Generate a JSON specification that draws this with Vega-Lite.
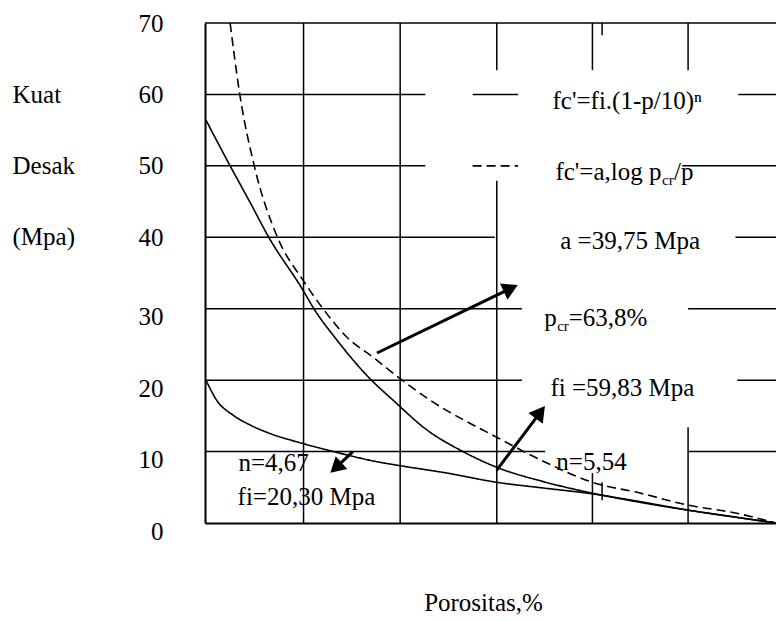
{
  "$schema": "https://vega.github.io/schema/vega-lite/v6.json",
  "width": 571,
  "height": 500,
  "autosize": {"type": "none"},
  "padding": {"left": 205, "top": 23, "right": 0, "bottom": 98},
  "background": "white",
  "config": {
    "view": {"stroke": null},
    "font": "Liberation Serif",
    "axis": {
      "grid": false,
      "ticks": false,
      "tickSize": 0,
      "domainColor": "black",
      "domainWidth": 2,
      "labelFont": "Liberation Serif",
      "labelFontSize": 25,
      "labelColor": "black",
      "titleFont": "Liberation Serif",
      "titleFontSize": 25,
      "titleFontWeight": "normal",
      "titleColor": "black"
    },
    "axisX": {"labels": false},
    "axisY": {"labelPadding": 42}
  },
  "datasets": {
    "curves": [
      {"series": "A", "p": 0.1, "v": 56.4},
      {"series": "A", "p": 2.6, "v": 50},
      {"series": "A", "p": 4.66, "v": 44.9},
      {"series": "A", "p": 6.6, "v": 40},
      {"series": "A", "p": 10.14, "v": 32.6},
      {"series": "A", "p": 11.18, "v": 30.2},
      {"series": "A", "p": 13.66, "v": 25.6},
      {"series": "A", "p": 17.08, "v": 20.2},
      {"series": "A", "p": 19.46, "v": 17.2},
      {"series": "A", "p": 23.0, "v": 13.0},
      {"series": "A", "p": 26.7, "v": 10},
      {"series": "A", "p": 30.2, "v": 7.8},
      {"series": "A", "p": 35.0, "v": 5.8},
      {"series": "A", "p": 40.0, "v": 4.2},
      {"series": "A", "p": 45.0, "v": 2.9},
      {"series": "A", "p": 50.0, "v": 1.8},
      {"series": "A", "p": 55.0, "v": 0.8},
      {"series": "A", "p": 59.1, "v": 0},
      {"series": "B", "p": 2.6, "v": 70},
      {"series": "B", "p": 3.6, "v": 60},
      {"series": "B", "p": 5.1, "v": 50},
      {"series": "B", "p": 7.5, "v": 40},
      {"series": "B", "p": 10.14, "v": 34.0},
      {"series": "B", "p": 12.1, "v": 30.2},
      {"series": "B", "p": 14.7, "v": 26.0},
      {"series": "B", "p": 17.4, "v": 23.2},
      {"series": "B", "p": 20.2, "v": 20.2},
      {"series": "B", "p": 23.3, "v": 17.2},
      {"series": "B", "p": 30.2, "v": 12.0},
      {"series": "B", "p": 35.4, "v": 8.4},
      {"series": "B", "p": 40.1, "v": 5.7},
      {"series": "B", "p": 45.0, "v": 4.2},
      {"series": "B", "p": 50.0, "v": 2.5},
      {"series": "B", "p": 54.9, "v": 1.4},
      {"series": "B", "p": 59.1, "v": 0},
      {"series": "C", "p": 0.1, "v": 20.0},
      {"series": "C", "p": 1.2, "v": 17.2},
      {"series": "C", "p": 2.9, "v": 15.1},
      {"series": "C", "p": 4.7, "v": 13.7},
      {"series": "C", "p": 6.4, "v": 12.7},
      {"series": "C", "p": 10.2, "v": 11.1},
      {"series": "C", "p": 13.3, "v": 10.0},
      {"series": "C", "p": 18.1, "v": 8.5},
      {"series": "C", "p": 20.3, "v": 8.0},
      {"series": "C", "p": 25.0, "v": 7.0},
      {"series": "C", "p": 30.2, "v": 5.7},
      {"series": "C", "p": 35.0, "v": 4.9},
      {"series": "C", "p": 40.0, "v": 4.1},
      {"series": "C", "p": 45.0, "v": 3.0},
      {"series": "C", "p": 50.0, "v": 1.8},
      {"series": "C", "p": 55.0, "v": 0.8},
      {"series": "C", "p": 59.1, "v": 0}
    ],
    "hgrid": [
      {"v": 70, "p": 0, "p2": 59.1},
      {"v": 60, "p": 0, "p2": 22.8},
      {"v": 60, "p": 55.2, "p2": 59.1},
      {"v": 50, "p": 0, "p2": 22.8},
      {"v": 50, "p": 49.4, "p2": 59.1},
      {"v": 40, "p": 0, "p2": 30.0},
      {"v": 40, "p": 54.9, "p2": 59.1},
      {"v": 30, "p": 0, "p2": 32.8},
      {"v": 30, "p": 50.0, "p2": 59.1},
      {"v": 20, "p": 0, "p2": 32.8},
      {"v": 20, "p": 55.1, "p2": 59.1},
      {"v": 10, "p": 0, "p2": 35.2},
      {"v": 10, "p": 50.0, "p2": 59.1}
    ],
    "vgrid": [
      {"p": 10.2, "v": 0, "v2": 70},
      {"p": 20.2, "v": 0, "v2": 70},
      {"p": 30.2, "v": 0, "v2": 47.9},
      {"p": 30.2, "v": 63.4, "v2": 70},
      {"p": 40.1, "v": 0, "v2": 7.0},
      {"p": 40.1, "v": 63.4, "v2": 70},
      {"p": 50.0, "v": 0, "v2": 13.4},
      {"p": 50.0, "v": 63.4, "v2": 70},
      {"p": 41.1, "v": 68.3, "v2": 70},
      {"p": 41.1, "v": 3.2, "v2": 5.7}
    ],
    "legendlines": [
      {"series": "A", "p": 27.7, "p2": 32.4, "v": 60},
      {"series": "B", "p": 27.7, "p2": 32.4, "v": 50}
    ],
    "arrows": [
      {"id": 1, "p": 17.8, "v": 23.8, "p2": 31.65, "v2": 32.85},
      {"id": 2, "p": 30.2, "v": 7.4, "p2": 34.7, "v2": 15.5},
      {"id": 3, "p": 15.3, "v": 10.0, "p2": 13.55, "v2": 7.75}
    ],
    "labelsCenter": [
      {"label": "fc'=fi.(1-p/10)ⁿ", "p": 43.7, "v": 59.1},
      {"label": "a =39,75 Mpa", "p": 44.0, "v": 39.5},
      {"label": "fi =59,83 Mpa", "p": 43.2, "v": 18.9},
      {"label": "n=5,54", "p": 40.0, "v": 8.5},
      {"label": "n=4,67", "p": 7.1, "v": 8.4},
      {"label": "fi=20,30 Mpa", "p": 10.5, "v": 3.6}
    ],
    "labelsRight": [
      {"label": "fc'=a,log p", "p": 47.25, "v": 49.1},
      {"label": "p", "p": 36.4, "v": 28.7}
    ],
    "labelsLeft": [
      {"label": "/p", "p": 48.55, "v": 49.1},
      {"label": "=63,8%", "p": 37.65, "v": 28.7}
    ],
    "labelsSub": [
      {"label": "cr", "p": 47.3, "v": 48.0},
      {"label": "cr", "p": 36.45, "v": 27.6}
    ]
  },
  "layer": [
    {
      "data": {"name": "curves"},
      "mark": {"type": "line", "color": "black", "strokeWidth": 1.6, "interpolate": "monotone"},
      "encoding": {
        "x": {
          "field": "p", "type": "quantitative",
          "scale": {"domain": [0, 59.1], "nice": false, "zero": false},
          "axis": {"title": "Porositas,%", "titleX": 278, "titleY": 79, "titleAlign": "center", "titleBaseline": "middle", "titleAnchor": null}
        },
        "y": {
          "field": "v", "type": "quantitative",
          "scale": {"domain": [0, 70], "nice": false},
          "axis": {
            "values": [0, 10, 20, 30, 40, 50, 60, 70],
            "title": ["Kuat", "Desak", "(Mpa)"],
            "titleAngle": 0, "titleX": -193, "titleY": 71,
            "titleAlign": "left", "titleBaseline": "middle", "titleLineHeight": 71.4,
            "labelOffset": {"condition": {"test": "datum.value <= 30", "value": 8}, "value": 0}
          }
        },
        "strokeDash": {"field": "series", "type": "nominal", "scale": {"domain": ["A", "B", "C"], "range": [[1, 0], [9, 5], [1, 0]]}, "legend": null}
      }
    },
    {
      "data": {"name": "hgrid"},
      "mark": {"type": "rule", "color": "black", "strokeWidth": 1.5},
      "encoding": {
        "x": {"field": "p", "type": "quantitative"},
        "x2": {"field": "p2"},
        "y": {"field": "v", "type": "quantitative"}
      }
    },
    {
      "data": {"name": "vgrid"},
      "mark": {"type": "rule", "color": "black", "strokeWidth": 1.5},
      "encoding": {
        "x": {"field": "p", "type": "quantitative"},
        "y": {"field": "v", "type": "quantitative"},
        "y2": {"field": "v2"}
      }
    },
    {
      "data": {"name": "legendlines"},
      "mark": {"type": "rule", "color": "black", "strokeWidth": 1.6},
      "encoding": {
        "x": {"field": "p", "type": "quantitative"},
        "x2": {"field": "p2"},
        "y": {"field": "v", "type": "quantitative"},
        "strokeDash": {"field": "series", "type": "nominal", "scale": {"domain": ["A", "B", "C"], "range": [[1, 0], [9, 5], [1, 0]]}, "legend": null}
      }
    },
    {
      "data": {"name": "arrows"},
      "mark": {"type": "rule", "color": "black", "strokeWidth": 3},
      "encoding": {
        "x": {"field": "p", "type": "quantitative"},
        "y": {"field": "v", "type": "quantitative"},
        "x2": {"field": "p2"},
        "y2": {"field": "v2"}
      }
    },
    {
      "data": {"name": "arrows"},
      "transform": [{"filter": "datum.id == 1"}],
      "mark": {"type": "point", "shape": "triangle-up", "filled": true, "color": "black", "opacity": 1, "size": 320, "angle": 65},
      "encoding": {
        "x": {"field": "p2", "type": "quantitative"},
        "y": {"field": "v2", "type": "quantitative"}
      }
    },
    {
      "data": {"name": "arrows"},
      "transform": [{"filter": "datum.id == 2"}],
      "mark": {"type": "point", "shape": "triangle-up", "filled": true, "color": "black", "opacity": 1, "size": 320, "angle": 37},
      "encoding": {
        "x": {"field": "p2", "type": "quantitative"},
        "y": {"field": "v2", "type": "quantitative"}
      }
    },
    {
      "data": {"name": "arrows"},
      "transform": [{"filter": "datum.id == 3"}],
      "mark": {"type": "point", "shape": "triangle-up", "filled": true, "color": "black", "opacity": 1, "size": 300, "angle": 228},
      "encoding": {
        "x": {"field": "p2", "type": "quantitative"},
        "y": {"field": "v2", "type": "quantitative"}
      }
    },
    {
      "data": {"name": "labelsCenter"},
      "mark": {"type": "text", "font": "Liberation Serif", "fontSize": 25, "color": "black", "align": "center", "baseline": "middle"},
      "encoding": {
        "x": {"field": "p", "type": "quantitative"},
        "y": {"field": "v", "type": "quantitative"},
        "text": {"field": "label"}
      }
    },
    {
      "data": {"name": "labelsRight"},
      "mark": {"type": "text", "font": "Liberation Serif", "fontSize": 25, "color": "black", "align": "right", "baseline": "middle"},
      "encoding": {
        "x": {"field": "p", "type": "quantitative"},
        "y": {"field": "v", "type": "quantitative"},
        "text": {"field": "label"}
      }
    },
    {
      "data": {"name": "labelsLeft"},
      "mark": {"type": "text", "font": "Liberation Serif", "fontSize": 25, "color": "black", "align": "left", "baseline": "middle"},
      "encoding": {
        "x": {"field": "p", "type": "quantitative"},
        "y": {"field": "v", "type": "quantitative"},
        "text": {"field": "label"}
      }
    },
    {
      "data": {"name": "labelsSub"},
      "mark": {"type": "text", "font": "Liberation Serif", "fontSize": 15, "color": "black", "align": "left", "baseline": "middle"},
      "encoding": {
        "x": {"field": "p", "type": "quantitative"},
        "y": {"field": "v", "type": "quantitative"},
        "text": {"field": "label"}
      }
    }
  ]
}
